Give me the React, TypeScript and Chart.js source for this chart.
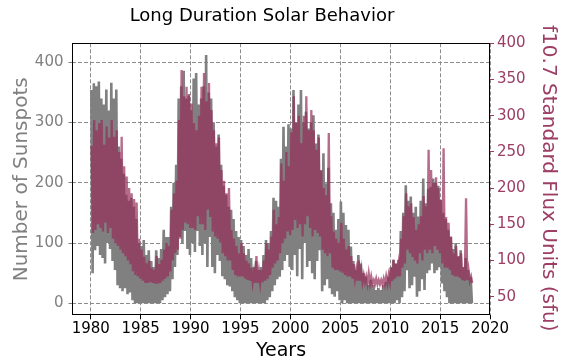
import React, { useEffect, useRef } from 'react';
import { Chart, registerables } from 'chart.js';

Chart.register(...registerables);

// Quarterly data starting 1980 Q1
const START_YEAR = 1980;

// Daily sunspot number: upper and lower envelope per quarter
const SUN_HI = [
  354, 365, 360, 368, // 1980
  340, 330, 355, 320, // 1981
  366, 340, 355, 260, // 1982
  240, 215, 180, 170, // 1983
  175, 160, 140, 100, // 1984
  95, 105, 80, 88, // 1985
  70, 60, 88, 75, // 1986
  90, 122, 110, 110, // 1987
  160, 200, 230, 340, // 1988
  360, 386, 340, 345, // 1989
  320, 373, 382, 330, // 1990
  340, 360, 412, 350, // 1991
  340, 300, 260, 280, // 1992
  230, 195, 180, 160, // 1993
  155, 140, 120, 110, // 1994
  105, 95, 80, 90, // 1995
  75, 60, 70, 55, // 1996
  60, 80, 105, 100, // 1997
  120, 175, 170, 160, // 1998
  240, 293, 260, 297, // 1999
  290, 354, 300, 330, // 2000
  354, 300, 318, 290, // 2001
  300, 312, 265, 280, // 2002
  220, 249, 199, 225, // 2003
  166, 150, 122, 140, // 2004
  169, 150, 130, 122, // 2005
  94, 70, 55, 80, // 2006
  66, 50, 44, 30, // 2007
  39, 30, 22, 25, // 2008
  22, 30, 35, 44, // 2009
  60, 72, 65, 72, // 2010
  120, 150, 196, 170, // 2011
  177, 150, 160, 144, // 2012
  170, 207, 166, 190, // 2013
  193, 207, 200, 195, // 2014
  171, 150, 140, 122, // 2015
  110, 90, 100, 77, // 2016
  88, 60, 75, 55, // 2017
  44, // 2018
];

const SUN_LO = [
  50, 88, 95, 80, // 1980
  75, 66, 100, 90, // 1981
  70, 55, 30, 25, // 1982
  20, 25, 15, 18, // 1983
  5, 0, 0, 0, // 1984
  0, 0, 0, 0, // 1985
  0, 0, 0, 0, // 1986
  5, 10, 15, 20, // 1987
  40, 60, 80, 110, // 1988
  100, 120, 90, 80, // 1989
  100, 85, 120, 95, // 1990
  80, 100, 60, 110, // 1991
  60, 50, 80, 70, // 1992
  45, 40, 30, 28, // 1993
  20, 10, 5, 0, // 1994
  0, 0, 0, 0, // 1995
  0, 0, 0, 0, // 1996
  0, 0, 5, 10, // 1997
  20, 30, 40, 44, // 1998
  55, 70, 80, 60, // 1999
  55, 80, 45, 90, // 2000
  40, 100, 60, 70, // 2001
  50, 40, 70, 88, // 2002
  20, 30, 40, 25, // 2003
  15, 11, 20, 5, // 2004
  0, 5, 0, 0, // 2005
  0, 0, 0, 0, // 2006
  0, 0, 0, 0, // 2007
  0, 0, 0, 0, // 2008
  0, 0, 0, 0, // 2009
  0, 0, 5, 0, // 2010
  10, 20, 55, 25, // 2011
  30, 44, 11, 20, // 2012
  40, 22, 50, 55, // 2013
  66, 50, 55, 60, // 2014
  33, 20, 10, 0, // 2015
  0, 0, 0, 0, // 2016
  0, 0, 0, 0, // 2017
  0, // 2018
];

// f10.7 solar flux (sfu): upper and lower envelope per quarter
const FLUX_HI = [
  258, 294, 280, 290, // 1980
  294, 260, 285, 270, // 1981
  294, 271, 280, 250, // 1982
  271, 230, 216, 200, // 1983
  193, 185, 180, 130, // 1984
  115, 105, 96, 100, // 1985
  90, 87, 106, 95, // 1986
  101, 115, 124, 120, // 1987
  170, 193, 210, 294, // 1988
  363, 327, 340, 330, // 1989
  317, 290, 280, 300, // 1990
  340, 359, 320, 345, // 1991
  308, 280, 262, 270, // 1992
  225, 210, 193, 200, // 1993
  142, 130, 120, 110, // 1994
  124, 110, 100, 96, // 1995
  90, 83, 106, 85, // 1996
  87, 100, 124, 115, // 1997
  133, 170, 150, 160, // 1998
  234, 210, 250, 230, // 1999
  277, 327, 290, 300, // 2000
  262, 300, 327, 280, // 2001
  308, 280, 253, 270, // 2002
  225, 200, 190, 276, // 2003
  161, 140, 130, 124, // 2004
  152, 130, 115, 120, // 2005
  106, 95, 87, 100, // 2006
  87, 80, 78, 82, // 2007
  78, 73, 75, 73, // 2008
  73, 75, 78, 80, // 2009
  90, 101, 96, 95, // 2010
  130, 161, 193, 175, // 2011
  179, 160, 142, 150, // 2012
  161, 189, 175, 253, // 2013
  225, 207, 215, 200, // 2014
  184, 255, 160, 152, // 2015
  133, 110, 120, 106, // 2016
  110, 90, 186, 87, // 2017
  78, // 2018
];

const FLUX_LO = [
  138, 142, 150, 145, // 1980
  140, 152, 138, 145, // 1981
  130, 124, 120, 115, // 1982
  110, 106, 100, 95, // 1983
  85, 80, 78, 75, // 1984
  72, 69, 69, 70, // 1985
  69, 68, 68, 69, // 1986
  72, 75, 78, 85, // 1987
  100, 110, 115, 130, // 1988
  142, 152, 150, 145, // 1989
  145, 142, 161, 150, // 1990
  150, 142, 170, 160, // 1991
  140, 133, 130, 125, // 1992
  110, 106, 100, 100, // 1993
  87, 80, 78, 78, // 1994
  78, 75, 73, 72, // 1995
  70, 69, 69, 69, // 1996
  70, 72, 75, 80, // 1997
  90, 96, 100, 110, // 1998
  124, 130, 140, 135, // 1999
  142, 156, 145, 150, // 2000
  133, 150, 161, 145, // 2001
  133, 142, 138, 133, // 2002
  115, 110, 106, 110, // 2003
  90, 87, 87, 85, // 2004
  83, 80, 78, 78, // 2005
  75, 75, 72, 72, // 2006
  70, 70, 68, 68, // 2007
  68, 67, 67, 67, // 2008
  67, 67, 68, 70, // 2009
  72, 75, 78, 78, // 2010
  90, 96, 115, 110, // 2011
  105, 100, 96, 110, // 2012
  100, 115, 110, 115, // 2013
  110, 120, 115, 110, // 2014
  96, 90, 90, 87, // 2015
  80, 78, 78, 76, // 2016
  73, 72, 73, 72, // 2017
  69, // 2018
];

const YEAR_TICKS = [1980, 1985, 1990, 1995, 2000, 2005, 2010, 2015, 2020];
const SUN_TICKS = [0, 100, 200, 300, 400];
const FLUX_TICKS = [50, 100, 150, 200, 250, 300, 350, 400];

const FONT = 'DejaVu Sans';
const GRAY = '#808080';
const MAROON = '#9c3d63';
const FLUX_LINE = 'rgba(150, 45, 90, 0.7)';

function toPoints(hi: number[], lo: number[], offHi: number, offLo: number) {
  const pts: { x: number; y: number }[] = [];
  for (let i = 0; i < hi.length; i++) {
    const t = START_YEAR + i * 0.25;
    pts.push({ x: t + offHi, y: hi[i] });
    pts.push({ x: t + offLo, y: lo[i] });
  }
  return pts;
}

const decor = {
  id: 'decor',
  afterDraw(chart: any) {
    const { ctx, chartArea: a } = chart;
    ctx.save();
    ctx.strokeStyle = '#000';
    ctx.lineWidth = 1;
    ctx.setLineDash([]);
    ctx.strokeRect(
      Math.round(a.left) + 0.5,
      Math.round(a.top) + 0.5,
      Math.round(a.right) - Math.round(a.left) - 1,
      Math.round(a.bottom) - Math.round(a.top) - 1
    );
    ctx.textAlign = 'center';
    ctx.textBaseline = 'alphabetic';
    ctx.fillStyle = '#000';
    ctx.font = `18px "${FONT}"`;
    ctx.fillText('Long Duration Solar Behavior', 262, 21);
    ctx.font = `19px "${FONT}"`;
    ctx.fillText('Years', (a.left + a.right) / 2, 355.5);
    const cy = (a.top + a.bottom) / 2;
    ctx.font = `20px "${FONT}"`;
    ctx.save();
    ctx.translate(26.5, cy);
    ctx.rotate(-Math.PI / 2);
    ctx.fillStyle = GRAY;
    ctx.fillText('Number of Sunspots', 0, 0);
    ctx.restore();
    ctx.save();
    ctx.translate(542.5, cy - 1);
    ctx.rotate(Math.PI / 2);
    ctx.fillStyle = MAROON;
    ctx.fillText('f10.7 Standard Flux Units (sfu)', 0, 0);
    ctx.restore();
    ctx.restore();
  },
};

export default function App() {
  const ref = useRef<HTMLCanvasElement | null>(null);

  useEffect(() => {
    if (!ref.current) return;
    const chart = new Chart(ref.current, {
      type: 'line',
      data: {
        datasets: [
          {
            label: 'f10.7',
            data: toPoints(FLUX_HI, FLUX_LO, 0.1, 0.225),
            yAxisID: 'y2',
            borderColor: FLUX_LINE,
            borderWidth: 2.3,
            pointRadius: 0,
            tension: 0,
            order: 1,
          },
          {
            label: 'Sunspots',
            data: toPoints(SUN_HI, SUN_LO, 0.0625, 0.1875),
            yAxisID: 'y',
            borderColor: GRAY,
            borderWidth: 2.6,
            pointRadius: 0,
            tension: 0,
            order: 2,
          },
        ],
      },
      options: {
        animation: false,
        responsive: false,
        devicePixelRatio: 1,
        layout: { padding: { top: 43.3, left: 0, right: 0, bottom: 0 } },
        plugins: {
          legend: { display: false },
          tooltip: { enabled: false },
          title: { display: false },
        },
        scales: {
          x: {
            type: 'linear',
            min: 1978.125,
            max: 2020,
            afterBuildTicks: (s: any) => {
              s.ticks = YEAR_TICKS.map((v) => ({ value: v }));
            },
            afterFit: (s: any) => {
              s.height = 44.7;
            },
            ticks: {
              callback: (v: any) => String(v),
              color: '#000',
              font: { family: FONT, size: 15 },
              padding: 1,
              maxRotation: 0,
              autoSkip: false,
            },
            grid: {
              color: '#8c8c8c',
              lineWidth: 1,
              tickColor: '#000',
              tickLength: 4,
              tickWidth: 1,
            },
            border: { display: false, dash: [4, 2] },
          },
          y: {
            type: 'linear',
            position: 'left',
            min: -20,
            max: 431.5,
            afterBuildTicks: (s: any) => {
              s.ticks = SUN_TICKS.map((v) => ({ value: v }));
            },
            afterFit: (s: any) => {
              s.width = 72;
            },
            ticks: {
              callback: (v: any) => String(v),
              color: GRAY,
              font: { family: FONT, size: 15 },
              padding: 5,
            },
            grid: {
              color: '#8c8c8c',
              lineWidth: 1,
              tickColor: GRAY,
              tickLength: 3.5,
              tickWidth: 1,
            },
            border: { display: false, dash: [4, 2] },
          },
          y2: {
            type: 'linear',
            position: 'right',
            min: 24.3,
            max: 400,
            afterBuildTicks: (s: any) => {
              s.ticks = FLUX_TICKS.map((v) => ({ value: v }));
            },
            afterFit: (s: any) => {
              s.width = 86;
            },
            ticks: {
              callback: (v: any) => String(v),
              color: MAROON,
              font: { family: FONT, size: 15 },
              padding: 3,
            },
            grid: {
              drawOnChartArea: false,
              tickColor: MAROON,
              tickLength: 4,
              tickWidth: 1,
            },
            border: { display: false },
          },
        },
      },
      plugins: [decor],
    });
    return () => chart.destroy();
  }, []);

  return (
    <div style={{ position: 'absolute', left: 0, top: 0, width: 576, height: 360 }}>
      <canvas ref={ref} width={576} height={360} style={{ width: 576, height: 360, display: 'block' }} />
    </div>
  );
}
